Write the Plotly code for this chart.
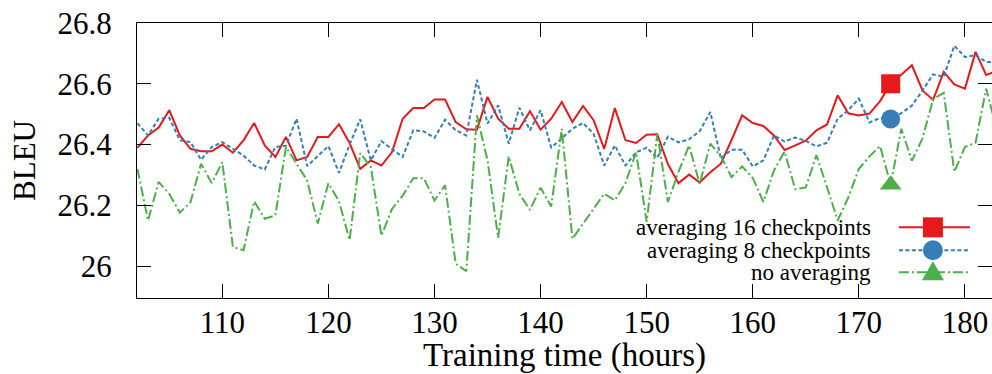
import plotly.graph_objects as go

hours = list(range(102, 184))

avg16 = [26.389, 26.43, 26.456, 26.513, 26.43, 26.386, 26.378, 26.378, 26.40, 26.373,
         26.414, 26.471, 26.397, 26.359, 26.425, 26.348, 26.359, 26.425, 26.425, 26.467,
         26.405, 26.32, 26.348, 26.331, 26.375, 26.485, 26.52, 26.52, 26.548, 26.548,
         26.474, 26.45, 26.449, 26.557, 26.485, 26.452, 26.452, 26.51, 26.449, 26.485,
         26.54, 26.474, 26.527, 26.48, 26.386, 26.52, 26.414, 26.405, 26.432, 26.434,
         26.336, 26.273, 26.301, 26.275, 26.309, 26.337, 26.415, 26.496, 26.471, 26.461,
         26.43, 26.382, 26.397, 26.413, 26.447, 26.466, 26.562, 26.503, 26.496, 26.502,
         26.543, 26.6, 26.63, 26.661, 26.578, 26.547, 26.639, 26.598, 26.584, 26.705,
         26.629, 26.642]

avg8 = [26.47, 26.43, 26.485, 26.488, 26.414, 26.408, 26.35, 26.392, 26.408, 26.386,
        26.364, 26.331, 26.318, 26.392, 26.396, 26.485, 26.329, 26.362, 26.395, 26.307,
        26.4, 26.483, 26.348, 26.411, 26.386, 26.359, 26.447, 26.443, 26.422, 26.482,
        26.447, 26.43, 26.613, 26.469, 26.529, 26.403, 26.521, 26.447, 26.513, 26.39,
        26.42, 26.452, 26.471, 26.435, 26.331, 26.397, 26.331, 26.374, 26.39, 26.356,
        26.426, 26.407, 26.417, 26.444, 26.507, 26.354, 26.383, 26.383, 26.328, 26.348,
        26.43, 26.41, 26.423, 26.412, 26.394, 26.406, 26.485, 26.513, 26.551, 26.473,
        26.487, 26.484, 26.503, 26.528, 26.578, 26.631, 26.623, 26.725, 26.688, 26.694,
        26.672, 26.672]

noavg = [26.32, 26.15, 26.277, 26.238, 26.176, 26.21, 26.337, 26.273, 26.342, 26.063,
         26.052, 26.213, 26.156, 26.167, 26.392, 26.337, 26.282, 26.14, 26.273, 26.213,
         26.086, 26.372, 26.326, 26.10, 26.188, 26.232, 26.289, 26.289, 26.216, 26.266,
         26.008, 25.983, 26.496, 26.348, 26.093, 26.361, 26.238, 26.185, 26.258, 26.196,
         26.452, 26.09, 26.14, 26.189, 26.238, 26.216, 26.273, 26.375, 26.146, 26.436,
         26.211, 26.31, 26.397, 26.27, 26.403, 26.361, 26.293, 26.328, 26.29, 26.211,
         26.315, 26.377, 26.253, 26.259, 26.365, 26.26, 26.15, 26.225, 26.32, 26.361,
         26.395, 26.268, 26.452, 26.347, 26.42, 26.55, 26.57, 26.31, 26.392, 26.406,
         26.584, 26.45]

names = ["averaging 16 checkpoints", "averaging 8 checkpoints", "no averaging"]
marker_hour = 173
xticks = [110, 120, 130, 140, 150, 160, 170, 180]
yticks = [26.0, 26.2, 26.4, 26.6, 26.8]
ytick_text = ["26", "26.2", "26.4", "26.6", "26.8"]

RED, BLUE, GREEN = "#e41a1c", "#377eb8", "#4daf4a"
FONT = "Liberation Serif, Times New Roman, DejaVu Serif, serif"

series = [
    (avg16, RED, "solid", "square"),
    (avg8, BLUE, "4px,2.5px", "circle"),
    (noavg, GREEN, "10px,3px,2px,3px", "triangle-up"),
]

fig = go.Figure()
mi = hours.index(marker_hour)
for (vals, col, dash, sym), nm in zip(series, names):
    fig.add_trace(go.Scatter(x=hours, y=vals, mode="lines", name=nm,
                             line=dict(color=col, width=2, dash=dash),
                             showlegend=False, cliponaxis=True))
for (vals, col, dash, sym), nm in zip(series, names):
    fig.add_trace(go.Scatter(x=[hours[mi]], y=[vals[mi]], mode="markers",
                             marker=dict(symbol=sym, size=19, color=col, line=dict(width=0)),
                             showlegend=False, cliponaxis=False))

# legend (gnuplot style: text left, sample right)
leg_y = [0.257, 0.1735, 0.0935]
x_text = 0.8608
x_l0, x_l1, x_m = 0.8911, 0.9742, 0.9309
for (vals, col, dash, sym), nm, yy in zip(series, names, leg_y):
    fig.add_annotation(x=x_text, y=yy, xref="paper", yref="paper", text=nm,
                       showarrow=False, xanchor="right", yanchor="middle",
                       font=dict(family=FONT, size=23, color="black"))
    fig.add_shape(type="line", xref="paper", yref="paper", x0=x_l0, x1=x_l1, y0=yy, y1=yy,
                  line=dict(color=col, width=2, dash=dash))
    if sym == "square":
        fig.add_shape(type="rect", xref="paper", yref="paper", xsizemode="pixel", ysizemode="pixel",
                      xanchor=x_m, yanchor=yy, x0=-10, x1=10, y0=-10, y1=10,
                      fillcolor=col, line=dict(width=0))
    elif sym == "circle":
        fig.add_shape(type="circle", xref="paper", yref="paper", xsizemode="pixel", ysizemode="pixel",
                      xanchor=x_m, yanchor=yy, x0=-10, x1=10, y0=-10, y1=10,
                      fillcolor=col, line=dict(width=0))
    else:
        fig.add_shape(type="path", xref="paper", yref="paper", xsizemode="pixel", ysizemode="pixel",
                      xanchor=x_m, yanchor=yy, path="M -11,-8 L 11,-8 L 0,11 Z",
                      fillcolor=col, line=dict(width=0))

axis_common = dict(showgrid=False, zeroline=False, showline=True, linecolor="black", linewidth=1.3,
                   mirror="allticks", ticks="inside", ticklen=14, tickwidth=1.3, tickcolor="black",
                   tickfont=dict(family=FONT, size=31, color="black"))

fig.update_xaxes(range=[101.96, 182.55], tickvals=xticks, ticktext=[str(t) for t in xticks],
                 title=dict(text="Training time (hours)", font=dict(family=FONT, size=33, color="black"),
                            standoff=10),
                 ticklabelstandoff=-3, **axis_common)
fig.update_yaxes(range=[25.895, 26.8], tickvals=yticks, ticktext=ytick_text,
                 title=dict(text="BLEU", font=dict(family=FONT, size=31, color="black"), standoff=12),
                 ticklabelstandoff=18, **axis_common)

fig.update_layout(width=992, height=374, margin=dict(l=137, r=0, t=23, b=76),
                  plot_bgcolor="white", paper_bgcolor="white", showlegend=False,
                  font=dict(family=FONT))

fig.write_html("out.html")
